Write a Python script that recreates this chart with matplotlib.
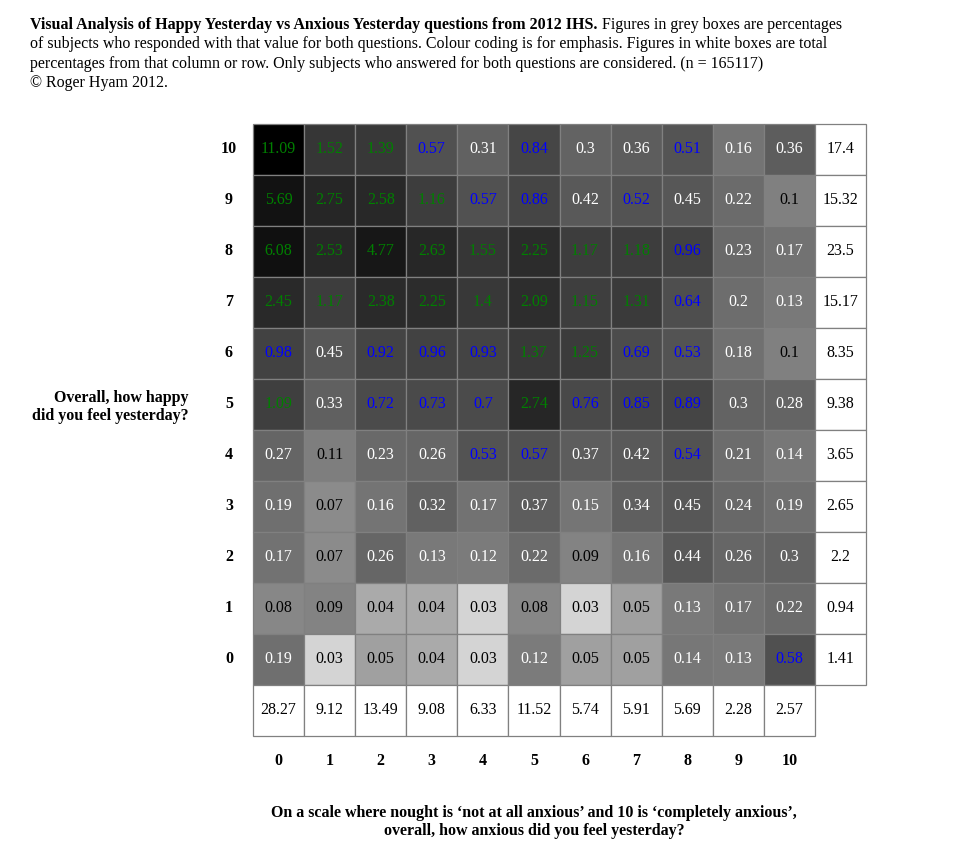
import numpy as np
import matplotlib
matplotlib.use('Agg')
import matplotlib.pyplot as plt
from matplotlib.colors import LinearSegmentedColormap, LogNorm
from matplotlib.patches import Rectangle

plt.rcParams['font.family'] = ['Liberation Serif', 'DejaVu Serif']

# anxious yesterday (columns) and happy yesterday (rows, top row = 10)
anxious = list(range(11))
happy = list(range(10, -1, -1))

# percentage of subjects giving both answers, rows happy 10 .. 0
pct = [
    [11.09, 1.52, 1.39, 0.57, 0.31, 0.84, 0.3, 0.36, 0.51, 0.16, 0.36],
    [5.69, 2.75, 2.58, 1.16, 0.57, 0.86, 0.42, 0.52, 0.45, 0.22, 0.1],
    [6.08, 2.53, 4.77, 2.63, 1.55, 2.25, 1.17, 1.18, 0.96, 0.23, 0.17],
    [2.45, 1.17, 2.38, 2.25, 1.4, 2.09, 1.15, 1.31, 0.64, 0.2, 0.13],
    [0.98, 0.45, 0.92, 0.96, 0.93, 1.37, 1.25, 0.69, 0.53, 0.18, 0.1],
    [1.09, 0.33, 0.72, 0.73, 0.7, 2.74, 0.76, 0.85, 0.89, 0.3, 0.28],
    [0.27, 0.11, 0.23, 0.26, 0.53, 0.57, 0.37, 0.42, 0.54, 0.21, 0.14],
    [0.19, 0.07, 0.16, 0.32, 0.17, 0.37, 0.15, 0.34, 0.45, 0.24, 0.19],
    [0.17, 0.07, 0.26, 0.13, 0.12, 0.22, 0.09, 0.16, 0.44, 0.26, 0.3],
    [0.08, 0.09, 0.04, 0.04, 0.03, 0.08, 0.03, 0.05, 0.13, 0.17, 0.22],
    [0.19, 0.03, 0.05, 0.04, 0.03, 0.12, 0.05, 0.05, 0.14, 0.13, 0.58],
]
row_totals = [17.4, 15.32, 23.5, 15.17, 8.35, 9.38, 3.65, 2.65, 2.2, 0.94, 1.41]
col_totals = [28.27, 9.12, 13.49, 9.08, 6.33, 11.52, 5.74, 5.91, 5.69, 2.28, 2.57]

W, H = 958, 868
fig = plt.figure(figsize=(W / 100, H / 100), dpi=100)
ax = fig.add_axes([253 / W, 132 / H, 613 / W, 612 / H])
ax.set_xlim(0, 12)
ax.set_ylim(-1, 11)
ax.axis('off')

# grey shading on a log scale, steeper for the smallest values
shade = LinearSegmentedColormap.from_list('shade', [
    (0.0, '#d4d4d4'), (0.049, '#a8a8a8'), (0.086, '#a0a0a0'),
    (0.143, '#8a8a8a'), (1.0, '#000000')])
norm = LogNorm(vmin=0.03, vmax=11.09)
edge = '#808080'
fs = 11.5
mid = 0.54  # vertical text position inside a box


def text_colour(v):
    if v >= 1:
        return '#008000'
    if v >= 0.5:
        return '#0000ff'
    if v >= 0.12:
        return 'white'
    return 'black'


for r, h in enumerate(happy):
    for c, a in enumerate(anxious):
        v = pct[r][c]
        ax.add_patch(Rectangle((a, h), 1, 1, facecolor=shade(norm(v)),
                               edgecolor=edge, lw=0.9, clip_on=False))
        ax.text(a + 0.5, h + mid, f'{v:g}', ha='center', va='center_baseline',
                fontsize=fs, color=text_colour(v))
    # row totals in white boxes
    ax.add_patch(Rectangle((11, h), 1, 1, facecolor='white', edgecolor=edge,
                           lw=0.9, clip_on=False))
    ax.text(11.5, h + mid, f'{row_totals[r]:g}', ha='center',
            va='center_baseline', fontsize=fs, color='black')
    ax.text(-0.47, h + mid, str(h), ha='center', va='center_baseline',
            fontsize=fs, fontweight='bold')

for c, a in enumerate(anxious):
    ax.add_patch(Rectangle((a, -1), 1, 1, facecolor='white', edgecolor=edge,
                           lw=0.9, clip_on=False))
    ax.text(a + 0.5, -1 + mid, f'{col_totals[c]:g}', ha='center',
            va='center_baseline', fontsize=fs, color='black')
    ax.text(a + 0.5, -1.46, str(a), ha='center', va='center_baseline',
            fontsize=fs, fontweight='bold')


def px(x, y):
    return x / W, 1 - y / H


# heading
bold_part = 'Visual Analysis of Happy Yesterday vs Anxious Yesterday questions from 2012 IHS.'
t = fig.text(*px(30, 29), bold_part, fontsize=fs, fontweight='bold', va='baseline')
fig.canvas.draw()
bb = t.get_window_extent(fig.canvas.get_renderer())
fig.text(bb.x1 / W + 4 / W, 1 - 29 / H, 'Figures in grey boxes are percentages',
         fontsize=fs, va='baseline')
lines = [
    'of subjects who responded with that value for both questions. Colour coding is for emphasis. Figures in white boxes are total',
    'percentages from that column or row. Only subjects who answered for both questions are considered. (n = 165117)',
    '\u00a9 Roger Hyam 2012.',
]
for i, line in enumerate(lines):
    fig.text(*px(30, 29 + 19.3 * (i + 1)), line, fontsize=fs, va='baseline')

# axis titles
fig.text(*px(189, 402), 'Overall, how happy', fontsize=fs, fontweight='bold',
         ha='right', va='baseline')
fig.text(*px(189, 420), 'did you feel yesterday?', fontsize=fs, fontweight='bold',
         ha='right', va='baseline')
fig.text(*px(534, 817), 'On a scale where nought is \u2018not at all anxious\u2019 and 10 is \u2018completely anxious\u2019,',
         fontsize=fs, fontweight='bold', ha='center', va='baseline')
fig.text(*px(534, 835), 'overall, how anxious did you feel yesterday?',
         fontsize=fs, fontweight='bold', ha='center', va='baseline')

fig.savefig('out.png', dpi=100, facecolor='white')
